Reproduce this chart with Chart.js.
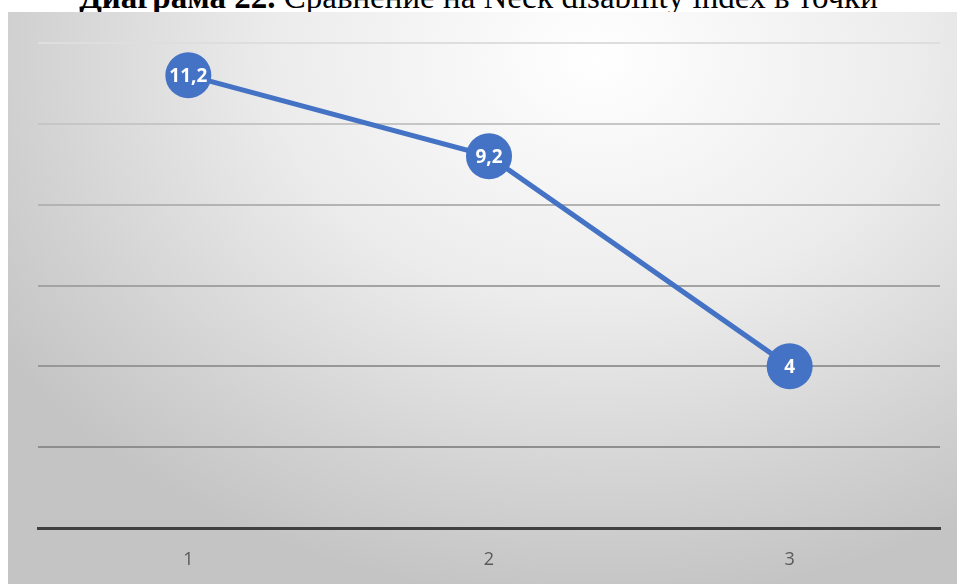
<!DOCTYPE html>
<html>
<head>
<meta charset="utf-8">
<script src="https://cdn.jsdelivr.net/npm/chart.js@4"></script>
<style>
  html, body { margin: 0; padding: 0; background: #fff; width: 957px; height: 584px; overflow: hidden; }
  #title {
    position: absolute; left: 0; top: -19px; width: 957px; text-align: center; line-height: 32px;
    font-family: "Liberation Serif", "Times New Roman", serif; font-size: 33px; color: #000;
    white-space: nowrap;
  }
  #box {
    position: absolute; left: 8px; top: 12px; width: 949px; height: 572px;
    background: radial-gradient(ellipse 75% 95% at 62% 8%, #ffffff 0%, #ececec 45%, #d2d2d2 80%, #c4c4c4 100%);
  }
</style>
</head>
<body>
<div id="title"><b>Диаграма 22.</b> Сравнение на Neck disability index в точки</div>
<div id="box"><canvas id="chart" width="949" height="572"></canvas></div>
<script>
// categories and values
const labels = ["1", "2", "3"];
const values = [11.2, 9.2, 4];
const yTicks = [0, 2, 4, 6, 8, 10, 12];

// gridlines get darker toward the bottom
const gridColors = { 2: "#8e8e8e", 4: "#979797", 6: "#a3a3a3", 8: "#b3b3b3", 10: "#c6c6c6", 12: "#dedede" };

// value labels written inside the markers
const valueLabels = {
    id: "valueLabels",
    afterDatasetsDraw(chart) {
        const ctx = chart.ctx;
        const meta = chart.getDatasetMeta(0);
        ctx.save();
        ctx.fillStyle = "#ffffff";
        ctx.font = "bold 19px 'Open Sans', 'Liberation Sans', sans-serif";
        ctx.textAlign = "center";
        ctx.textBaseline = "middle";
        meta.data.forEach((pt, i) => {
            ctx.fillText(String(values[i]).replace(".", ","), pt.x, pt.y + 1);
        });
        ctx.restore();
    }
};

new Chart(document.getElementById("chart").getContext("2d"), {
    type: "line",
    data: {
        labels: labels,
        datasets: [{
            data: values,
            borderColor: "#4472c4",
            borderWidth: 5,
            pointRadius: 23,
            pointHoverRadius: 23,
            pointBackgroundColor: "#4472c4",
            pointBorderColor: "#4472c4",
            pointBorderWidth: 0,
            tension: 0,
        }],
    },
    options: {
        responsive: false,
        animation: false,
        layout: { autoPadding: false, padding: { left: 30, right: 17, top: 31, bottom: 0 } },
        plugins: { legend: { display: false }, tooltip: { enabled: false } },
        scales: {
            x: {
                offset: true,
                grid: { display: false },
                border: { color: "#404040", width: 3 },
                ticks: {
                    color: "#595959",
                    padding: 15,
                    font: { family: "'Open Sans', 'Liberation Sans', sans-serif", size: 18, lineHeight: 1 },
                },
            },
            y: {
                min: 0,
                max: 12,
                afterBuildTicks(scale) {
                    scale.ticks = yTicks.map((v) => ({ value: v }));
                },
                ticks: { display: false },
                border: { display: false },
                grid: {
                    drawTicks: false,
                    lineWidth: 2,
                    color: (c) => gridColors[c.tick.value] || "rgba(0,0,0,0)",
                },
            },
        },
    },
    plugins: [valueLabels],
});
</script>
</body>
</html>
